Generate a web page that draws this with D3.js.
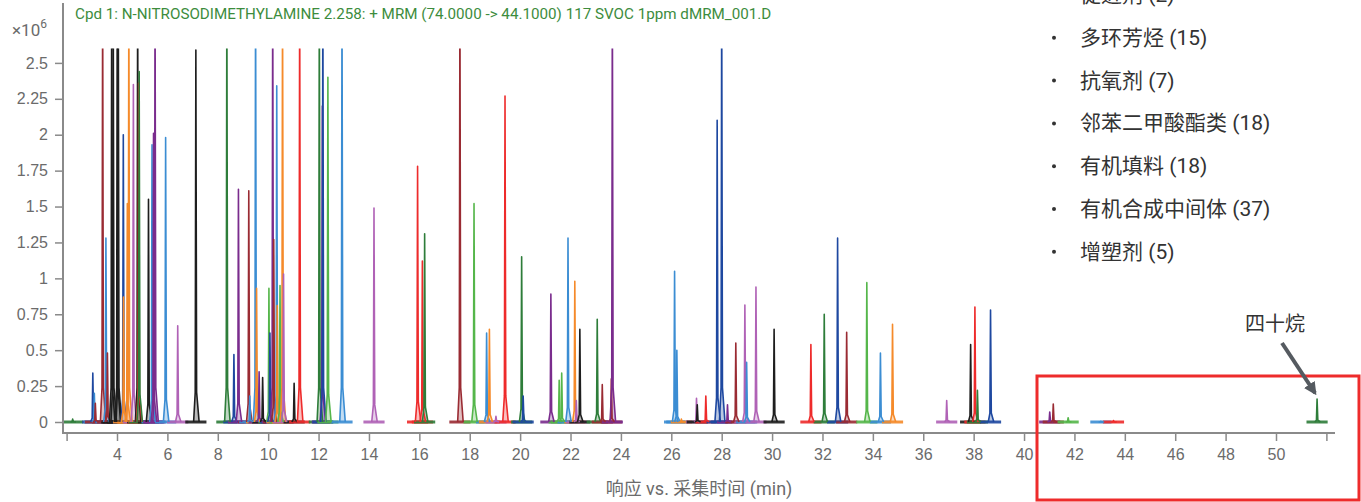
<!DOCTYPE html>
<html>
<head>
<meta charset="utf-8">
<script src="https://cdn.jsdelivr.net/npm/d3@7"></script>
<style>
  body { margin: 0; background: #fff; }
  svg { display: block; font-family: Roboto, "Noto Sans CJK SC", sans-serif; }
</style>
</head>
<body>
<div id="chart"></div>
<script>
// peak list: retention time (min), height (x10^6), trace group
const peakTime = [2.24, 3.04, 3.10, 3.14, 3.43, 3.56, 3.62, 3.79, 3.85, 4.01, 4.05, 4.25, 4.26, 4.41, 4.47, 4.65,
  4.82, 4.86, 4.88, 5.25, 5.39, 5.45, 5.51, 5.93, 6.41, 7.13, 8.36, 8.64, 8.82, 9.23, 9.27, 9.50, 9.54, 9.64,
  9.78, 10.03, 10.07, 10.18, 10.22, 10.34, 10.36, 10.47, 10.57, 10.61, 11.03, 11.25, 12.03, 12.15, 12.17, 12.37,
  12.93, 14.20, 15.93, 16.12, 16.21, 17.61, 18.17, 18.67, 18.78, 19.04, 19.40, 20.06, 20.12, 21.22, 21.55, 21.65,
  21.90, 22.17, 22.23, 22.37, 23.06, 23.26, 23.62, 23.66, 26.13, 26.22, 26.40, 27.00, 27.03, 27.37, 27.82, 28.00,
  28.23, 28.56, 28.92, 28.99, 29.36, 30.08, 31.54, 32.07, 32.60, 32.96, 33.76, 34.30, 34.78, 36.93, 37.88, 38.05,
  38.15, 38.67, 41.02, 41.16, 41.75, 43.05, 43.55, 51.63];
const peakHeight = [0.02, 0.34, 0.20, 0.13, 3.0, 1.28, 0.48, 3.0, 3.0, 3.0, 3.0, 2.00, 0.87, 1.52, 3.0, 2.35,
  3.0, 2.36, 2.44, 1.55, 1.93, 2.01, 3.0, 1.98, 0.67, 2.59, 3.0, 0.47, 1.62, 1.61, 0.18, 3.0, 0.93, 0.35,
  0.31, 0.93, 0.62, 3.0, 1.27, 2.34, 0.81, 0.95, 3.0, 1.03, 0.27, 3.0, 3.0, 2.2, 3.0, 2.40,
  3.0, 1.49, 1.78, 1.12, 1.31, 3.0, 1.52, 0.62, 0.645, 0.04, 2.27, 1.15, 0.18, 0.89, 0.29, 0.34,
  1.28, 0.98, 0.15, 0.645, 0.715, 0.26, 0.30, 3.0, 1.05, 0.50, 0.02, 0.165, 0.12, 0.18, 2.10, 3.0,
  0.12, 0.55, 0.815, 0.415, 0.94, 0.645, 0.54, 0.75, 1.28, 0.625, 0.97, 0.48, 0.68, 0.15, 0.54, 0.80,
  0.22, 0.78, 0.07, 0.125, 0.03, 0.005, 0.01, 0.16];
const peakTrace = ["H", "B", "A", "C", "C", "A", "C", "D", "D", "D", "D", "B", "E", "E", "E", "F",
  "D", "J", "H", "D", "A", "G", "G", "A", "F", "D", "H", "B", "G", "C", "A", "A", "E", "G",
  "D", "I", "B", "G", "C", "A", "E", "I", "E", "F", "D", "J", "H", "G", "B", "I",
  "A", "F", "J", "J", "H", "C", "I", "A", "E", "F", "J", "H", "B", "G", "I", "I",
  "A", "E", "F", "D", "H", "C", "C", "G", "A", "A", "E", "F", "D", "J", "B", "B",
  "G", "C", "F", "A", "F", "D", "J", "H", "B", "C", "I", "A", "E", "F", "D", "J",
  "H", "B", "G", "C", "I", "A", "J", "H"];

const traceKeys = ["A", "B", "C", "D", "E", "F", "G", "H", "I", "J"];
const yTicks = [0, 0.25, 0.5, 0.75, 1, 1.25, 1.5, 1.75, 2, 2.25, 2.5];
const xTicks = [2, 4, 6, 8, 10, 12, 14, 16, 18, 20, 22, 24, 26, 28, 30, 32, 34, 36, 38, 40, 42, 44, 46, 48, 50, 52];
const xLabelled = [4, 6, 8, 10, 12, 14, 16, 18, 20, 22, 24, 26, 28, 30, 32, 34, 36, 38, 40, 42, 44, 46, 48, 50];

const legendNames = ["促进剂", "多环芳烃", "抗氧剂", "邻苯二甲酸酯类", "有机填料", "有机合成中间体", "增塑剂"];
const legendCounts = [2, 15, 7, 18, 18, 37, 5];

const titleText = "Cpd 1: N-NITROSODIMETHYLAMINE 2.258: + MRM (74.0000 -> 44.1000) 117 SVOC 1ppm dMRM_001.D";
const xTitle = "响应 vs. 采集时间 (min)";
const noteText = "四十烷";

const W = 1361, H = 502;
const axisGrey = "#8a8a8a", textGrey = "#6b6b6b";

const color = d3.scaleOrdinal()
  .domain(traceKeys)
  .range(["#3b8dd3", "#1e48a0", "#9a2b33", "#1e1e1e", "#f58a2a", "#b062b6", "#7a2c8d", "#2e7d3a", "#55b64a", "#ee2b2b"]);

const x = d3.scaleLinear().domain([4, 50]).range([117, 1276]);
const y = d3.scaleLinear().domain([0, 2.5]).range([422, 62.9]);

const svg = d3.select("#chart").append("svg")
  .attr("width", W)
  .attr("height", H);

svg.append("defs").append("clipPath").attr("id", "plotClip")
  .append("rect")
  .attr("x", 64).attr("y", y(2.6))
  .attr("width", 1270).attr("height", 433 - y(2.6));

svg.select("defs").append("marker")
  .attr("id", "arrow")
  .attr("viewBox", "0 0 10 10")
  .attr("refX", 8).attr("refY", 5)
  .attr("markerWidth", 3.2).attr("markerHeight", 3.2)
  .attr("orient", "auto")
  .append("path")
  .attr("d", "M0,0 L10,5 L0,10 z")
  .attr("fill", "#555a60");

const peaks = peakTime.map((t, i) => ({ t: t, h: peakHeight[i], k: peakTrace[i] }));

const plot = svg.append("g").attr("clip-path", "url(#plotClip)");

// baseline segments of each compound window
plot.selectAll(".base")
  .data(peaks)
  .enter()
  .append("line")
  .attr("class", "base")
  .attr("x1", d => x(d.t - 0.42))
  .attr("x2", d => x(d.t + 0.42))
  .attr("y1", y(0))
  .attr("y2", y(0))
  .attr("stroke", d => color(d.k))
  .attr("stroke-width", 3)
  .attr("opacity", 0.9);

// peak outline (narrow, slightly tailing)
const peakLine = d3.line()
  .x(p => x(p[0]))
  .y(p => y(p[1]));

const peakShape = d => [
  [d.t - 0.09, 0],
  [d.t - 0.025, d.h * 0.08],
  [d.t, d.h],
  [d.t + 0.03, d.h * 0.08],
  [d.t + 0.13, 0]
];

plot.selectAll(".peakFill")
  .data(peaks)
  .enter()
  .append("path")
  .attr("class", "peakFill")
  .attr("d", d => peakLine(peakShape(d)) + "Z")
  .attr("fill", d => color(d.k))
  .attr("fill-opacity", 0.3)
  .attr("stroke", "none");

plot.selectAll(".peak")
  .data(peaks)
  .enter()
  .append("path")
  .attr("class", "peak")
  .attr("d", d => peakLine(peakShape(d)))
  .attr("fill", "none")
  .attr("stroke", d => color(d.k))
  .attr("stroke-width", 1.6)
  .attr("stroke-linejoin", "round");

// y axis
const yAxis = svg.append("g")
  .attr("transform", "translate(63,0)")
  .call(d3.axisLeft(y).tickValues(yTicks).tickSize(8).tickSizeOuter(0)
    .tickFormat(d => d3.format("~g")(d)));
yAxis.select(".domain").remove();
yAxis.selectAll(".tick line").attr("stroke", axisGrey).attr("stroke-width", 1.5);
yAxis.selectAll(".tick text")
  .attr("x", -15)
  .attr("fill", textGrey)
  .style("font-size", "16px");
svg.append("line")
  .attr("x1", 63).attr("x2", 63)
  .attr("y1", 3).attr("y2", 434)
  .attr("stroke", axisGrey).attr("stroke-width", 2);

// x axis
const xAxis = svg.append("g")
  .attr("transform", "translate(0,433)")
  .call(d3.axisBottom(x).tickValues(xTicks).tickSize(8).tickSizeOuter(0)
    .tickFormat(d => xLabelled.includes(d) ? d : ""));
xAxis.select(".domain").remove();
xAxis.selectAll(".tick line").attr("stroke", axisGrey).attr("stroke-width", 1.5);
xAxis.selectAll(".tick text")
  .attr("y", 16)
  .attr("fill", textGrey)
  .style("font-size", "16px");
svg.append("line")
  .attr("x1", 62).attr("x2", 1335)
  .attr("y1", 433).attr("y2", 433)
  .attr("stroke", axisGrey).attr("stroke-width", 2);

svg.append("text")
  .attr("x", 699).attr("y", 495)
  .attr("text-anchor", "middle")
  .attr("fill", textGrey)
  .style("font-size", "18px")
  .text(xTitle);

// multiplier label
const mult = svg.append("text")
  .attr("x", 12).attr("y", 36)
  .attr("fill", textGrey)
  .style("font-size", "17px");
mult.append("tspan").text("×10");
mult.append("tspan").attr("dy", -8).style("font-size", "12px").text("6");

// compound title
svg.append("text")
  .attr("x", 75).attr("y", 19)
  .attr("fill", "#3d8c3d")
  .style("font-size", "15.2px")
  .text(titleText);

// legend list
const legend = svg.append("g")
  .selectAll("g")
  .data(legendNames)
  .enter()
  .append("g")
  .attr("transform", (d, i) => `translate(0, ${-6 + i * 42.8})`);
legend.append("circle")
  .attr("cx", 1054).attr("cy", 1)
  .attr("r", 2)
  .attr("fill", "#333");
legend.append("text")
  .attr("x", 1080).attr("y", 8)
  .attr("fill", "#333")
  .style("font-size", "21px")
  .text((d, i) => `${d} (${legendCounts[i]})`);

// highlight box and note
svg.append("rect")
  .attr("x", 1037).attr("y", 376)
  .attr("width", 322).attr("height", 124)
  .attr("fill", "none")
  .attr("stroke", "#ee2b2b")
  .attr("stroke-width", 3);

svg.append("text")
  .attr("x", 1275).attr("y", 331)
  .attr("text-anchor", "middle")
  .attr("fill", "#333")
  .style("font-size", "20px")
  .text(noteText);

svg.append("line")
  .attr("x1", 1282).attr("y1", 343)
  .attr("x2", 1315).attr("y2", 393)
  .attr("stroke", "#555a60")
  .attr("stroke-width", 4)
  .attr("marker-end", "url(#arrow)");
</script>
</body>
</html>
